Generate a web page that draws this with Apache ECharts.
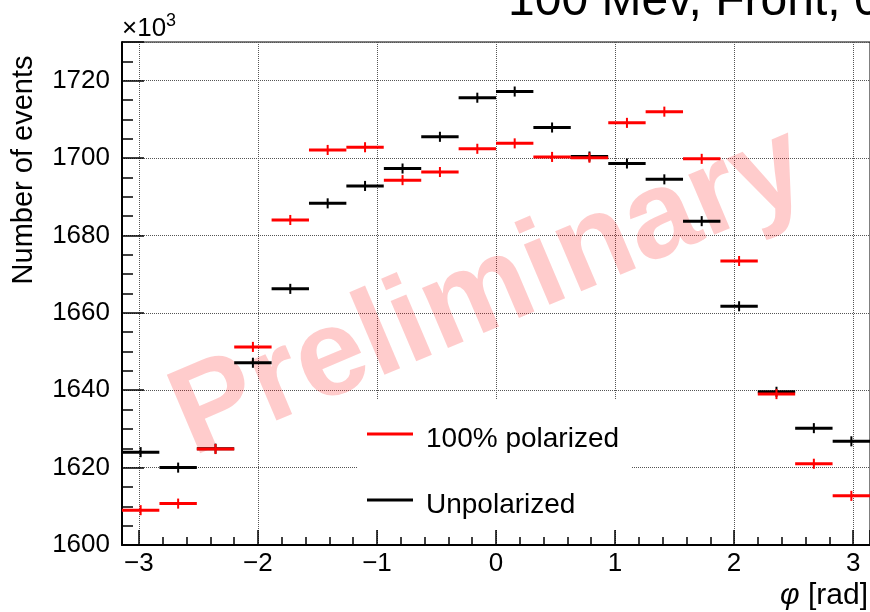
<!DOCTYPE html>
<html>
<head>
<meta charset="utf-8">
<script src="https://cdn.jsdelivr.net/npm/echarts@6/dist/echarts.min.js"></script>
<style>html,body{margin:0;padding:0;background:#fff}#c{width:870px;height:612px}</style>
</head>
<body>
<div id="c"></div>
<script>
// Bin centres of phi [rad] (20 bins from -pi to pi)
const phiCenters = [-2.985, -2.670, -2.356, -2.042, -1.728, -1.414, -1.100, -0.785, -0.471, -0.157,
                     0.157,  0.471,  0.785,  1.100,  1.414,  1.728,  2.042,  2.356,  2.670,  2.985];
const binHalfWidth = 0.157;
// Number of events (x10^3)
const polarized = [1609.0, 1610.7, 1624.8, 1651.2, 1684.0, 1702.1, 1702.8, 1694.3, 1696.4, 1702.4,
                   1703.8, 1700.3, 1700.1, 1709.1, 1712.0, 1699.8, 1673.4, 1639.0, 1621.0, 1612.7];
const unpolarized = [1624.0, 1620.0, 1624.9, 1647.1, 1666.2, 1688.3, 1692.8, 1697.3, 1705.5, 1715.6,
                     1717.2, 1707.9, 1700.4, 1698.6, 1694.5, 1683.7, 1661.7, 1639.6, 1630.2, 1626.8];
const polErr   = [1.3, 1.3, 1.3, 1.3, 1.3, 1.3, 1.3, 1.3, 1.3, 1.3, 1.3, 1.3, 1.3, 1.3, 1.3, 1.3, 1.3, 1.3, 1.3, 1.3];
const unpolErr = [1.3, 1.3, 1.3, 1.3, 1.3, 1.3, 1.3, 1.3, 1.3, 1.3, 1.3, 1.3, 1.3, 1.3, 1.3, 1.3, 1.3, 1.3, 1.3, 1.3];
const yTicks = [1600, 1620, 1640, 1660, 1680, 1700, 1720];
const xTicks = [-3, -2, -1, 0, 1, 2, 3];

const FONT = '"Liberation Sans", Arial, Helvetica, sans-serif';

function mk(vals, errs) {
  return phiCenters.map((x, i) => [x, vals[i], errs[i]]);
}
function errRender(color) {
  return function (params, api) {
    const x = api.value(0), y = api.value(1), e = api.value(2);
    const a = api.coord([x - binHalfWidth, y]);
    const b = api.coord([x + binHalfWidth, y]);
    const t = api.coord([x, y + e]);
    const d = api.coord([x, y - e]);
    return {
      type: 'group',
      children: [
        { type: 'line', shape: { x1: a[0], y1: a[1], x2: b[0], y2: b[1] }, style: { stroke: color, lineWidth: 3 } },
        { type: 'line', shape: { x1: t[0], y1: t[1], x2: d[0], y2: d[1] }, style: { stroke: color, lineWidth: 2 } }
      ]
    };
  };
}

const chart = echarts.init(document.getElementById('c'), null, { renderer: 'canvas' });
chart.setOption({
  animation: false,
  backgroundColor: '#fff',
  textStyle: { fontFamily: FONT },
  grid: { left: 122, right: 0, top: 42, bottom: 67, show: true, borderColor: '#000', borderWidth: 1, backgroundColor: 'transparent' },
  xAxis: {
    type: 'value', min: -Math.PI, max: Math.PI, splitNumber: 6,
    axisLine: { show: true, onZero: false, lineStyle: { color: '#000', width: 2 } },
    axisTick: { show: true, inside: true, length: 15, lineStyle: { color: '#000', width: 1.5 } },
    minorTick: { show: true, splitNumber: 5, length: 8, lineStyle: { color: '#000', width: 1.5 } },
    splitLine: { show: true, lineStyle: { color: '#555', width: 1, type: 'dotted' } },
    axisLabel: {
      show: true, margin: 6, fontSize: 26, color: '#000', fontFamily: FONT,
      showMinLabel: false, showMaxLabel: false,
      formatter: function (v) {
        const r = Math.round(v);
        if (Math.abs(v - r) > 1e-6 || xTicks.indexOf(r) < 0) return '';
        return r < 0 ? '\u2212' + (-r) : String(r);
      }
    }
  },
  yAxis: {
    type: 'value', min: 1600, max: 1730, interval: 20,
    axisLine: { show: true, onZero: false, lineStyle: { color: '#000', width: 2 } },
    axisTick: { show: true, inside: true, length: 22, lineStyle: { color: '#000', width: 1.5 } },
    minorTick: { show: true, splitNumber: 4, length: 11, lineStyle: { color: '#000', width: 1.5 } },
    splitLine: { show: true, lineStyle: { color: '#555', width: 1, type: 'dotted' } },
    axisLabel: {
      show: true, margin: 12, fontSize: 26, color: '#000', fontFamily: FONT,
      showMaxLabel: false,
      formatter: function (v) { return yTicks.indexOf(v) >= 0 ? String(v) : ''; }
    }
  },
  legend: {
    left: 357, top: 400, orient: 'vertical',
    backgroundColor: '#fff', borderWidth: 0,
    padding: [14, 10, 10, 10],
    itemWidth: 46, itemHeight: 3, itemGap: 26,
    icon: 'rect',
    formatter: '{t|{name}}{s| }',
    textStyle: {
      fontSize: 28, color: '#000', fontFamily: FONT, lineHeight: 30, padding: [0, 0, 0, 8],
      rich: {
        t: { fontSize: 28, fontFamily: FONT, color: '#000', lineHeight: 30, height: 30, verticalAlign: 'bottom' },
        s: { fontSize: 10, lineHeight: 40, height: 40, width: 1 }
      }
    },
    data: [{ name: '100% polarized' }, { name: 'Unpolarized' }],
    selectedMode: false
  },
  graphic: [
    { type: 'text', z: 1, x: 490, y: 293, rotation: 23 * Math.PI / 180,
      style: { text: 'Preliminary', font: 'bold 124px ' + FONT, fill: 'rgba(255,0,0,0.2)', align: 'center', verticalAlign: 'middle' } },
    { type: 'text', z: 10, x: 508, y: 2,
      style: { text: '100 Mev, Front, 0\u00b0', font: '48px ' + FONT, fill: '#000', align: 'left', verticalAlign: 'middle' } },
    { type: 'text', z: 10, x: 122, y: 29,
      style: { text: '\u00d710', font: '26px ' + FONT, fill: '#000', align: 'left', verticalAlign: 'middle' } },
    { type: 'text', z: 10, x: 166, y: 21,
      style: { text: '3', font: '18px ' + FONT, fill: '#000', align: 'left', verticalAlign: 'middle' } },
    { type: 'text', z: 10, x: 24, y: 170, rotation: Math.PI / 2,
      style: { text: 'Number of events', font: '29px ' + FONT, fill: '#000', align: 'center', verticalAlign: 'middle' } },
    { type: 'text', z: 10, x: 868, y: 596,
      style: {
        text: '{p|\u03c6} [rad]', font: '30px ' + FONT, fill: '#000', align: 'right', verticalAlign: 'middle',
        rich: { p: { font: 'italic 30px ' + FONT, fill: '#000' } }
      } }
  ],
  series: [
    { name: 'Unpolarized', type: 'custom', z: 3, renderItem: errRender('#000'), itemStyle: { color: '#000' },
      encode: { x: 0, y: 1 }, data: mk(unpolarized, unpolErr) },
    { name: '100% polarized', type: 'custom', z: 4, renderItem: errRender('#ff0000'), itemStyle: { color: '#ff0000' },
      encode: { x: 0, y: 1 }, data: mk(polarized, polErr) }
  ]
});
</script>
</body>
</html>
